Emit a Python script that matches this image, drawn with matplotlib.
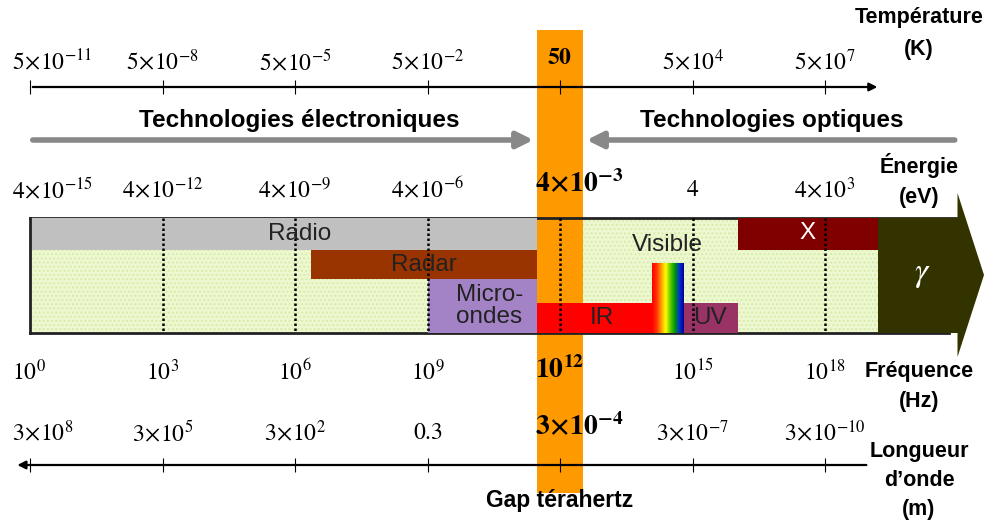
import numpy as np
import matplotlib.pyplot as plt
from matplotlib.colors import LinearSegmentedColormap
from matplotlib.patches import Polygon

plt.rcParams['mathtext.fontset'] = 'stix'
plt.rcParams['font.family'] = ['Liberation Sans', 'DejaVu Sans']

# tick positions, log10 of frequency (Hz)
freq_exp = [0, 3, 6, 9, 12, 15, 18]
temp_labels = [r'$5\!\times\!10^{-11}$', r'$5\!\times\!10^{-8}$', r'$5\!\times\!10^{-5}$', r'$5\!\times\!10^{-2}$',
               r'$\mathbf{50}$', r'$5\!\times\!10^{4}$', r'$5\!\times\!10^{7}$']
energy_labels = [r'$4\!\times\!10^{-15}$', r'$4\!\times\!10^{-12}$', r'$4\!\times\!10^{-9}$', r'$4\!\times\!10^{-6}$',
                 r'$\mathbf{4\!\times\!10^{-3}}$', r'$4$', r'$4\!\times\!10^{3}$']
freq_labels = [r'$10^{0}$', r'$10^{3}$', r'$10^{6}$', r'$10^{9}$',
               r'$\mathbf{10^{12}}$', r'$10^{15}$', r'$10^{18}$']
wave_labels = [r'$3\!\times\!10^{8}$', r'$3\!\times\!10^{5}$', r'$3\!\times\!10^{2}$', r'$0.3$',
               r'$\mathbf{3\!\times\!10^{-4}}$', r'$3\!\times\!10^{-7}$', r'$3\!\times\!10^{-10}$']
bold_idx = 4

# spectral bands, log10 of frequency
band_names = ['Radio', 'Radar', 'Micro-\nondes', 'IR', 'UV', 'X']
band_lo = [0, 6.36, 9.0, 11.48, 14.8, 16.03]
band_hi = [11.48, 11.48, 11.48, 14.08, 16.03, 19.2]
band_label_x = [6.1, 8.92, 10.4, 12.95, 15.4, 17.6]
visible_lo, visible_hi = 14.08, 14.8
gamma_lo, gamma_end = 19.2, 21.6
thz_lo, thz_hi = 11.48, 12.52
box_end = 19.2

# layout (pixel rows) and styles
band_rows = [(218, 250), (250, 279), (279, 333), (303, 333), (303, 333), (218, 250)]
band_text_y = [234, 265, 306, 318, 318, 233]
band_colors = ['#c0c0c0', '#993300', '#a383c6', '#ff0000', '#993366', '#800000']
band_text_colors = ['#222222', '#222222', '#222222', '#222222', '#222222', 'white']

ppd = (825 - 30) / 18.0
fig = plt.figure(figsize=(9.86, 5.23), dpi=100)
ax = fig.add_axes([0, 0, 1, 1])
ax.set_xlim(-30 / ppd, (986 - 30) / ppd)
ax.set_ylim(523, 0)
ax.axis('off')

# terahertz gap
ax.fill_between([thz_lo, thz_hi], 30, 493, color='#ff9900', zorder=2, lw=0)

# main box
ax.fill_between([0, box_end], 218, 333, facecolor='#eef8d0', edgecolor='#d6ecaa', hatch='....', lw=0, zorder=1)
for lo, hi, (y0, y1), c in zip(band_lo, band_hi, band_rows, band_colors):
    ax.fill_between([lo, hi], y0, y1, color=c, lw=0, zorder=3)
for name, lx, ty, tc in zip(band_names, band_label_x, band_text_y, band_text_colors):
    ax.text(lx, ty, name, ha='center', va='center', fontsize=17.5, color=tc, zorder=6, linespacing=1.05)

# visible rainbow
rainbow = LinearSegmentedColormap.from_list('rb', ['#ff0000', '#ff3300', '#ff9900', '#ffff00',
                                                   '#66cc00', '#009900', '#0033cc', '#000099'])
ax.imshow(np.linspace(0, 1, 100)[None, :], cmap=rainbow, aspect='auto',
          extent=[visible_lo, visible_hi, 333, 263], zorder=4)
ax.text((visible_lo + visible_hi) / 2, 245, 'Visible', ha='center', va='center', fontsize=17.5,
        color='#222222', zorder=6)

# gamma arrow
gx = [gamma_lo, 21.0, 21.0, gamma_end, 21.0, 21.0, gamma_lo]
gy = [218, 218, 193, 275, 357, 333, 333]
ax.add_patch(Polygon(np.column_stack([gx, gy]), closed=True, color='#333300', lw=0, zorder=3))
ax.text(20.2, 274, r'$\gamma$', ha='center', va='center', fontsize=24, color='white', zorder=6)

# box borders
ax.plot([0, 21.0], [218, 218], color='#222222', lw=2, zorder=2.5)
ax.plot([0, 20.8], [333, 333], color='#222222', lw=2, zorder=2.5)
ax.plot([0, 0], [218, 333], color='#222222', lw=2, zorder=5)
ax.vlines(freq_exp[1:], 218, 333, colors='black', lw=1.8, linestyles=(0, (1, 1)), zorder=5)


def label_row(labels, y, y_bold, size=17, size_bold=20):
    for i, (fx, lab) in enumerate(zip(freq_exp, labels)):
        if i == 0:
            ax.text(-0.41, y, lab, ha='left', va='center', fontsize=size, zorder=6)
        elif i == bold_idx and lab != temp_labels[bold_idx]:
            ax.text(thz_lo - 0.05, y_bold, lab, ha='left', va='center', fontsize=size_bold, zorder=6)
        elif i == bold_idx:
            ax.text(fx, y_bold, lab, ha='center', va='center', fontsize=17, zorder=6)
        else:
            ax.text(fx, y, lab, ha='center', va='center', fontsize=size, zorder=6)


# temperature axis
ax.annotate('', xy=(19.25, 87), xytext=(0, 87),
            arrowprops=dict(arrowstyle='-|>', color='black', lw=1.6, mutation_scale=12), zorder=5)
ax.vlines(freq_exp, 80, 94, colors='black', lw=0.8, zorder=5)
label_row(temp_labels, 62, 58)

# wavelength axis
ax.annotate('', xy=(-0.35, 465), xytext=(19.0, 465),
            arrowprops=dict(arrowstyle='-|>', color='black', lw=1.6, mutation_scale=12), zorder=5)
ax.vlines(freq_exp, 458, 472, colors='black', lw=0.8, zorder=5)
label_row(wave_labels, 433, 427)

# energy and frequency labels
label_row(energy_labels, 190, 184)
label_row(freq_labels, 372, 370)

# technology arrows
ax.annotate('', xy=(thz_lo - 0.02, 140), xytext=(0, 140),
            arrowprops=dict(arrowstyle='-|>', color='#888888', lw=4, mutation_scale=24), zorder=5)
ax.annotate('', xy=(thz_hi + 0.02, 140), xytext=(21.0, 140),
            arrowprops=dict(arrowstyle='-|>', color='#888888', lw=4, mutation_scale=24), zorder=5)
ax.text(6.1, 120, 'Technologies électroniques', ha='center', va='center', fontsize=17.5, fontweight='bold')
ax.text(16.8, 120, 'Technologies optiques', ha='center', va='center', fontsize=17.5, fontweight='bold')

# axis names
side_x = (919 - 30) / ppd
for txt, ty in [('Température', 18), ('(K)', 50), ('Énergie', 165), ('(eV)', 198),
                ('Fréquence', 372), ('(Hz)', 402), ('Longueur', 452), ('d\u2019onde', 480), ('(m)', 510)]:
    ax.text(side_x, ty, txt, ha='center', va='center', fontsize=15.5, fontweight='bold')
ax.text((thz_lo + thz_hi) / 2, 500, 'Gap térahertz', ha='center', va='center', fontsize=16.5,
        fontweight='bold')

fig.savefig('out.png', dpi=100)
